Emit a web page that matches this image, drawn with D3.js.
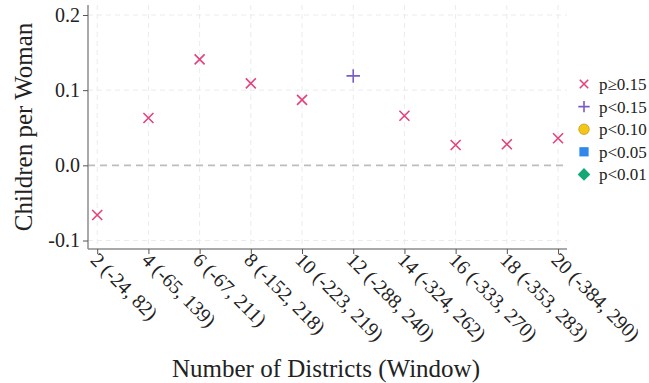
<!DOCTYPE html>
<html><head><meta charset="utf-8">
<script src="https://cdn.jsdelivr.net/npm/d3@7"></script>
<style>body{margin:0;background:#fff;} svg{display:block;}</style>
</head><body>
<svg id="c" width="649" height="383"></svg>
<script>
const districts = [2,4,6,8,10,12,14,16,18,20];
const windows = ["(-24, 82)","(-65, 139)","(-67, 211)","(-152, 218)","(-223, 219)","(-288, 240)","(-324, 262)","(-333, 270)","(-353, 283)","(-384, 290)"];
const estimates = [-0.066,0.063,0.141,0.109,0.087,0.119,0.066,0.027,0.028,0.036];
const pClass = ["p≥0.15","p≥0.15","p≥0.15","p≥0.15","p≥0.15","p<0.15","p≥0.15","p≥0.15","p≥0.15","p≥0.15"];
const yTicks = [-0.1,0.0,0.1,0.2];
const legendLabels = ["p≥0.15","p<0.15","p<0.10","p<0.05","p<0.01"];
const legendColors = ["#e3427d","#7a5cc9","#f5c518","#2f86eb","#16a777"];
const legendShapes = ["x","plus","circle","square","diamond"];

const font = "'Liberation Serif', serif";
const svg = d3.select("#c");
const L=88, R=567, T=5, B=249;
const x = d3.scaleLinear().domain([1.64,20.35]).range([L,R]);
const y = d3.scaleLinear().domain([-0.1113,0.2133]).range([B,T]);

// grid
const g = svg.append("g");
g.selectAll(".gx").data(districts).join("line")
  .attr("x1",d=>x(d)).attr("x2",d=>x(d)).attr("y1",T).attr("y2",B)
  .attr("stroke","#ebebeb").attr("stroke-width",1).attr("stroke-dasharray","5,4");
g.selectAll(".gy").data(yTicks.filter(d=>d!==0)).join("line")
  .attr("x1",L).attr("x2",R).attr("y1",d=>y(d)).attr("y2",d=>y(d))
  .attr("stroke","#ebebeb").attr("stroke-width",1).attr("stroke-dasharray","5,4");
// zero line
g.append("line").attr("x1",L).attr("x2",R).attr("y1",y(0)).attr("y2",y(0))
  .attr("stroke","#bdbdbd").attr("stroke-width",1.6).attr("stroke-dasharray","7,5");

// axes
const yAxis = d3.axisLeft(y).tickValues(yTicks).tickFormat(d3.format(".1f")).tickSize(5).tickPadding(3);
const ya = svg.append("g").attr("transform",`translate(${L},0)`).call(yAxis);
ya.select(".domain").attr("stroke","#8c8c8c").attr("stroke-width",1.5).attr("d",`M0,${T}V${B}`);
ya.selectAll(".tick line").attr("stroke","#555");
ya.selectAll(".tick text").attr("font-family",font).attr("font-size",20).attr("fill","#222")
  .text(d=> d<0 ? "-"+Math.abs(d).toFixed(1) : d.toFixed(1));

const xAxis = d3.axisBottom(x).tickValues(districts).tickSize(5).tickFormat((d,i)=>d+" "+windows[i]);
const xa = svg.append("g").attr("transform",`translate(0,${B})`).call(xAxis);
xa.select(".domain").attr("stroke","#8c8c8c").attr("stroke-width",1.5).attr("d",`M${L},0H${R}`);
xa.selectAll(".tick line").attr("stroke","#555");
xa.selectAll(".tick text").attr("font-family",font).attr("font-size",20).attr("fill","#222")
  .attr("text-anchor","start").attr("dy",null).attr("y",0)
  .attr("transform","translate(-5,9) rotate(45)").attr("dominant-baseline","middle");

// titles
svg.append("text").attr("x",326).attr("y",377).attr("text-anchor","middle")
  .attr("font-family",font).attr("font-size",25).attr("fill","#222").text("Number of Districts (Window)");
svg.append("text").attr("transform",`translate(32,127) rotate(-90)`).attr("text-anchor","middle")
  .attr("font-family",font).attr("font-size",25).attr("fill","#222").text("Children per Woman");

// marker helper
function drawMarker(sel, shape, color, cx, cy, s){
  if(shape==="x"){
    sel.append("path").attr("d",`M${cx-s},${cy-s}L${cx+s},${cy+s}M${cx-s},${cy+s}L${cx+s},${cy-s}`)
      .attr("stroke",color).attr("stroke-width",1.6).attr("fill","none");
  } else if(shape==="plus"){
    const p=s*1.35;
    sel.append("path").attr("d",`M${cx-p},${cy}L${cx+p},${cy}M${cx},${cy-p}L${cx},${cy+p}`)
      .attr("stroke",color).attr("stroke-width",1.6).attr("fill","none");
  } else if(shape==="circle"){
    sel.append("circle").attr("cx",cx).attr("cy",cy).attr("r",s*1.25).attr("fill",color).attr("stroke","#b08a00").attr("stroke-width",0.6);
  } else if(shape==="square"){
    sel.append("rect").attr("x",cx-s*1.1).attr("y",cy-s*1.1).attr("width",s*2.2).attr("height",s*2.2).attr("fill",color);
  } else if(shape==="diamond"){
    const p=s*1.5;
    sel.append("path").attr("d",`M${cx},${cy-p}L${cx+p},${cy}L${cx},${cy+p}L${cx-p},${cy}Z`).attr("fill",color);
  }
}
const pts = svg.append("g");
districts.forEach((d,i)=>{
  const k = legendLabels.indexOf(pClass[i]);
  drawMarker(pts, legendShapes[k], legendColors[k], x(d), y(estimates[i]), 5);
});

// legend
const lg = svg.append("g");
legendLabels.forEach((lab,i)=>{
  const cy = 84 + i*22.6;
  drawMarker(lg, legendShapes[i], legendColors[i], 584, cy, 4.2);
  lg.append("text").attr("x",599).attr("y",cy).attr("dy","0.35em")
    .attr("font-family",font).attr("font-size",17).attr("fill","#222").text(lab);
});
</script>
</body></html>
